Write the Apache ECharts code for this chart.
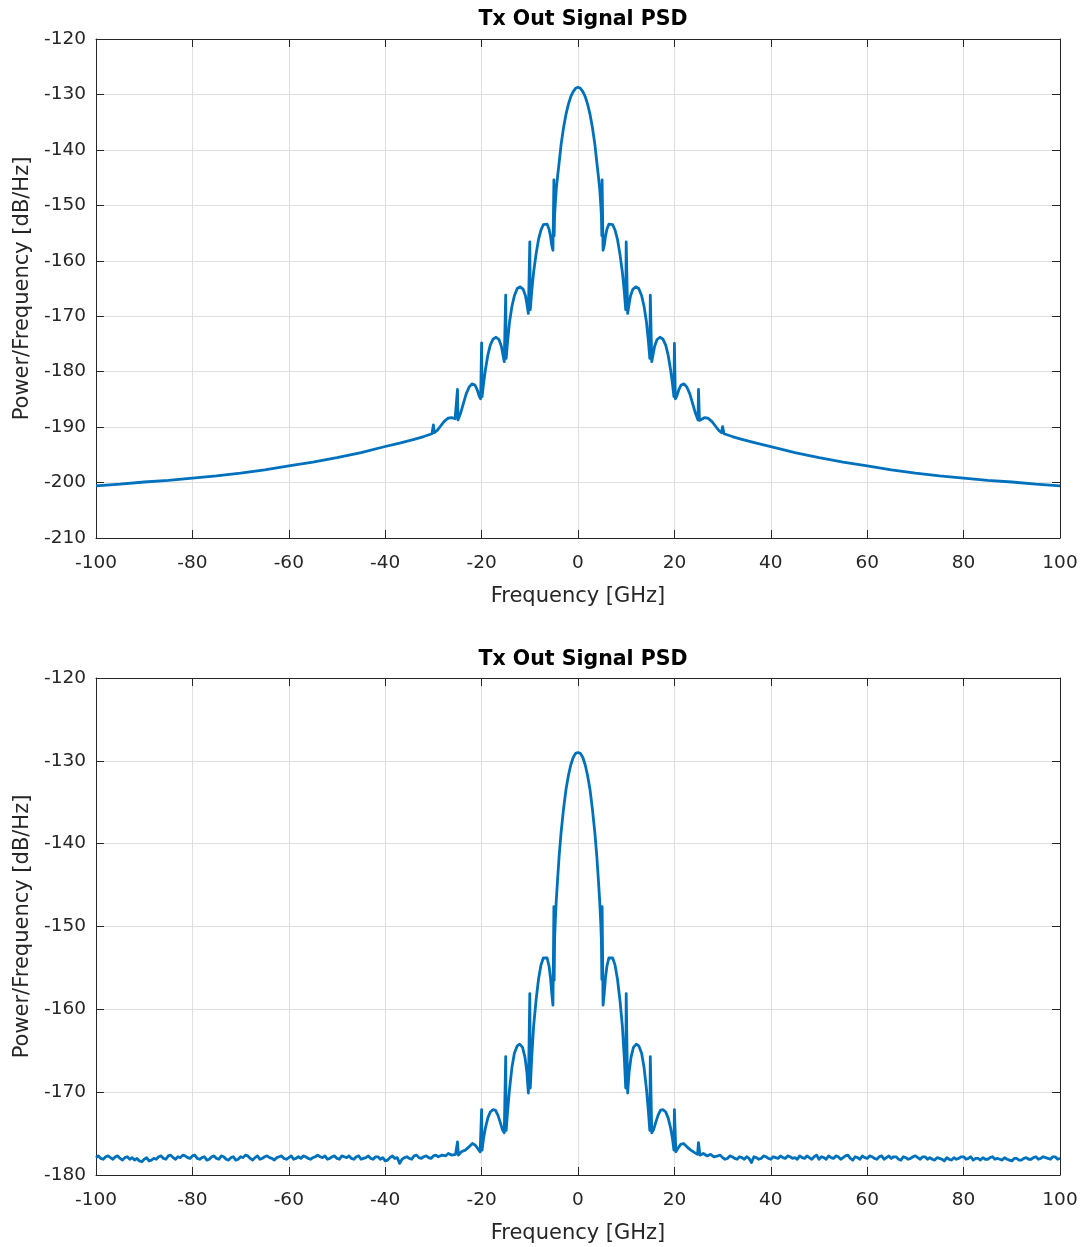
<!DOCTYPE html>
<html>
<head>
<meta charset="utf-8">
<script src="https://cdn.jsdelivr.net/npm/echarts@6/dist/echarts.min.js"></script>
<style>
html,body{margin:0;padding:0;background:#fff;}
#chart{width:1081px;height:1247px;}
</style>
</head>
<body>
<div id="chart"></div>
<script>
// ---------- Data ----------
const chartTitle = "Tx Out Signal PSD";
const xName = "Frequency [GHz]";
const yName = "Power/Frequency [dB/Hz]";
const xTicks = [-100, -80, -60, -40, -20, 0, 20, 40, 60, 80, 100];
const yTicksTop = [-210, -200, -190, -180, -170, -160, -150, -140, -130, -120];
const yTicksBottom = [-180, -170, -160, -150, -140, -130, -120];

// Top panel: frequency [GHz] and PSD [dB/Hz]
const freqTop = [
  -100, -95, -90, -85, -80, -75, -70, -65, -60, -55, -50, -45, -40, -37, -34, -32,
  -30.3, -30.0, -29.8, -29.2, -28.5, -27.8, -27.0, -26.2, -25.5, -25.2, -25.0, -24.9,
  -24.4, -23.8, -23.2, -22.6, -22.0, -21.4, -20.9, -20.5, -20.2, -20.0, -19.9,
  -19.6, -19.2, -18.7, -18.2, -17.6, -17.0, -16.4, -15.9, -15.6, -15.3, -15.0, -14.9,
  -14.6, -14.2, -13.7, -13.2, -12.6, -12.0, -11.4, -10.9, -10.6, -10.3, -10.0, -9.9,
  -9.6, -9.2, -8.7, -8.2, -7.7, -7.2, -6.8, -6.4, -6.0, -5.7, -5.45, -5.2, -5.0, -4.95,
  -4.85, -4.7, -4.5, -4.2, -4.0, -3.5, -3.0, -2.5, -2.0, -1.5, -1.0, -0.5, 0,
  0.5, 1.0, 1.5, 2.0, 2.5, 3.0, 3.5, 4.0, 4.2, 4.5, 4.7, 4.85, 4.95, 5.0, 5.2,
  5.45, 5.7, 6.0, 6.4, 6.8, 7.2, 7.7, 8.2, 8.7, 9.2, 9.6, 9.9, 10.0, 10.3,
  10.6, 10.9, 11.4, 12.0, 12.6, 13.2, 13.7, 14.2, 14.6, 14.9, 15.0, 15.3,
  15.6, 15.9, 16.4, 17.0, 17.6, 18.2, 18.7, 19.2, 19.6, 19.9, 20.0, 20.2,
  20.5, 20.9, 21.4, 22.0, 22.6, 23.2, 23.8, 24.4, 24.9, 25.0, 25.2,
  25.5, 26.2, 27.0, 27.8, 28.5, 29.2, 29.8, 30.0, 30.3,
  32, 34, 37, 40, 45, 50, 55, 60, 65, 70, 75, 80, 85, 90, 95, 100
];
const psdTop = [
  -200.6, -200.3, -199.9, -199.6, -199.2, -198.8, -198.3, -197.7, -197.0, -196.3, -195.5, -194.6, -193.5, -192.9, -192.2, -191.7,
  -191.2, -189.6, -191.0, -190.6, -189.8, -189.0, -188.4, -188.3, -188.5, -188.8, -183.2, -188.7,
  -187.6, -185.8, -184.0, -182.8, -182.2, -182.4, -183.3, -184.4, -184.9, -174.8, -184.5,
  -182.2, -179.6, -177.0, -175.2, -174.1, -173.8, -174.2, -175.4, -176.8, -178.2, -166.2, -177.6,
  -174.5, -171.0, -168.2, -166.3, -165.0, -164.7, -165.1, -166.3, -167.8, -169.5, -156.6, -168.8,
  -165.5, -162.0, -158.8, -156.2, -154.5, -153.5, -153.2, -153.4, -154.3, -155.6, -157.2, -158.1, -145.4, -155.5,
  -151.8, -149.5, -147.0, -144.5, -143.0, -139.0, -136.0, -133.6, -131.8, -130.4, -129.5, -128.9, -128.7,
  -128.9, -129.5, -130.4, -131.8, -133.6, -136.0, -139.0, -143.0, -144.5, -147.0, -149.5, -151.8, -155.5, -145.4, -158.1,
  -157.2, -155.6, -154.3, -153.4, -153.2, -153.5, -154.5, -156.2, -158.8, -162.0, -165.5, -168.8, -156.6, -169.5,
  -167.8, -166.3, -165.1, -164.7, -165.0, -166.3, -168.2, -171.0, -174.5, -177.6, -166.2, -178.2,
  -176.8, -175.4, -174.2, -173.8, -174.1, -175.2, -177.0, -179.6, -182.2, -184.5, -174.9, -184.9,
  -184.4, -183.3, -182.4, -182.2, -182.8, -184.0, -185.8, -187.6, -188.7, -183.2, -188.8,
  -188.5, -188.3, -188.4, -189.0, -189.8, -190.6, -191.0, -189.9, -191.2,
  -191.7, -192.2, -192.9, -193.5, -194.6, -195.5, -196.3, -197.0, -197.7, -198.3, -198.8, -199.2, -199.6, -199.9, -200.3, -200.6
];

// Bottom panel: left noise floor
const noiseLeftFreq = [
  -100, -99.5, -99, -98.5, -98, -97.5, -97, -96.5, -96, -95.5, -95, -94.5, -94, -93.5, -93, -92.5, -92, -91.5, -91, -90.5,
  -90, -89.5, -89, -88.5, -88, -87.5, -87, -86.5, -86, -85.5, -85, -84.5, -84, -83.5, -83, -82.5, -82, -81.5, -81, -80.5,
  -80, -79.5, -79, -78.5, -78, -77.5, -77, -76.5, -76, -75.5, -75, -74.5, -74, -73.5, -73, -72.5, -72, -71.5, -71, -70.5,
  -70, -69.5, -69, -68.5, -68, -67.5, -67, -66.5, -66, -65.5, -65, -64.5, -64, -63.5, -63, -62.5, -62, -61.5, -61, -60.5,
  -60, -59.5, -59, -58.5, -58, -57.5, -57, -56.5, -56, -55.5, -55, -54.5, -54, -53.5, -53, -52.5, -52, -51.5, -51, -50.5,
  -50, -49.5, -49, -48.5, -48, -47.5, -47, -46.5, -46, -45.5, -45, -44.5, -44, -43.5, -43, -42.5, -42, -41.5, -41, -40.5,
  -40, -39.5, -39, -38.5, -38, -37.5, -37, -36.5, -36, -35.5, -35, -34.5, -34, -33.5, -33, -32.5, -32, -31.5, -31, -30.5,
  -30, -29.5, -29
];
const noiseLeftPsd = [
  -177.9, -177.7, -178.0, -178.1, -177.8, -177.7, -177.9, -178.1, -177.8, -177.7, -178.0, -178.2, -177.9, -177.8, -178.1, -177.9, -178.2, -178.0, -178.3, -178.4,
  -178.1, -177.9, -178.3, -178.2, -178.0, -178.1, -177.8, -177.7, -178.0, -178.1, -177.7, -177.6, -177.9, -178.1, -177.8, -177.9, -177.6, -177.7, -177.9, -178.0,
  -177.7, -177.6, -178.0, -178.1, -177.9, -177.8, -178.2, -178.1, -177.8, -177.7, -178.0, -178.1, -177.7, -177.8, -178.1, -178.2, -177.9, -177.8, -178.2, -178.1,
  -177.8, -177.9, -177.6, -177.7, -178.0, -178.2, -177.9, -177.7, -178.1, -178.0, -177.8, -177.7, -177.9, -178.0, -178.2, -177.9, -177.8, -177.7, -178.0, -178.1,
  -177.9, -177.7, -178.1, -178.0, -177.8, -178.0, -177.7, -177.8, -178.0, -178.1, -177.9, -177.8, -177.6, -177.8, -177.9, -177.7, -178.1, -178.0, -177.8, -177.7,
  -178.0, -178.1, -177.7, -177.8, -177.9, -177.7, -178.0, -178.1, -177.8, -177.7, -178.1, -178.0, -177.9, -177.7, -178.0, -178.1, -177.8, -177.8, -178.1, -177.9,
  -178.3, -178.2, -177.9, -177.7, -178.0, -177.9, -178.6, -178.1, -177.9, -177.8, -178.0, -178.1, -177.7, -177.6, -177.9, -178.0, -177.8, -177.7, -177.9, -178.0,
  -177.7, -177.6, -177.8
];
// Bottom panel: central lobes
const lobeFreqBottom = [
  -28.2, -27.5, -26.9, -26.2, -25.4, -25.0, -24.8, -24.2, -23.4, -22.6, -21.9, -21.3, -20.7, -20.3, -20.0, -19.9,
  -19.6, -19.2, -18.7, -18.2, -17.6, -17.1, -16.6, -16.1, -15.7, -15.3, -15.0, -14.9,
  -14.6, -14.2, -13.7, -13.2, -12.6, -12.1, -11.5, -11.0, -10.6, -10.3, -10.0, -9.9,
  -9.6, -9.2, -8.7, -8.2, -7.7, -7.2, -6.8, -6.4, -6.0, -5.7, -5.45, -5.2, -5.0, -4.95,
  -4.85, -4.7, -4.5, -4.2, -3.9, -3.5, -3.0, -2.5, -2.0, -1.5, -1.0, -0.5, 0,
  0.5, 1.0, 1.5, 2.0, 2.5, 3.0, 3.5, 3.9, 4.2, 4.5, 4.7, 4.85, 4.95, 5.0, 5.2,
  5.45, 5.7, 6.0, 6.4, 6.8, 7.2, 7.7, 8.2, 8.7, 9.2, 9.6, 9.9, 10.0, 10.3,
  10.6, 11.0, 11.5, 12.1, 12.6, 13.2, 13.7, 14.2, 14.6, 14.9, 15.0, 15.3,
  15.7, 16.1, 16.6, 17.1, 17.6, 18.2, 18.7, 19.2, 19.6, 19.9, 20.0, 20.3,
  20.7, 21.3, 21.9, 22.6, 23.4, 24.2, 24.8, 25.0, 25.3, 26.0, 26.8, 27.5, 28.2, 29
];
const lobePsdBottom = [
  -177.6, -177.7, -177.4, -177.6, -177.5, -176.0, -177.6, -177.2, -177.0, -176.6, -176.2, -176.4, -176.9, -177.2, -172.1, -177.0,
  -175.6, -174.3, -173.1, -172.4, -172.1, -172.2, -172.8, -173.7, -174.5, -174.9, -165.7, -174.6,
  -172.3, -169.6, -167.0, -165.3, -164.4, -164.2, -164.6, -165.8, -167.6, -170.1, -158.1, -169.5,
  -165.8, -162.0, -158.9, -156.4, -154.7, -153.8, -153.6, -153.8, -154.8, -156.2, -158.0, -159.5, -147.6, -156.5,
  -151.5, -149.2, -146.8, -144.0, -141.4, -138.6, -135.8, -133.5, -131.8, -130.5, -129.6, -129.1, -129.0,
  -129.1, -129.6, -130.5, -131.8, -133.5, -135.9, -138.7, -141.5, -144.1, -146.9, -149.3, -151.6, -156.4, -147.6, -159.5,
  -158.0, -156.2, -154.8, -153.8, -153.6, -153.8, -154.7, -156.4, -158.9, -162.0, -165.8, -169.5, -158.1, -170.1,
  -167.6, -165.8, -164.6, -164.2, -164.4, -165.3, -167.0, -169.6, -172.3, -174.6, -165.7, -174.9,
  -174.5, -173.7, -172.8, -172.2, -172.1, -172.4, -173.1, -174.3, -175.6, -177.0, -172.1, -177.2,
  -176.8, -176.3, -176.2, -176.6, -177.0, -177.3, -177.5, -176.1, -177.6, -177.4, -177.7, -177.5, -177.8, -177.7
];
// Bottom panel: right noise floor
const noiseRightFreq = [
  29.5, 30, 30.5, 31, 31.5, 32, 32.5, 33, 33.5, 34, 34.5, 35, 35.5, 36, 36.5, 37, 37.5, 38, 38.5, 39, 39.5,
  40, 40.5, 41, 41.5, 42, 42.5, 43, 43.5, 44, 44.5, 45, 45.5, 46, 46.5, 47, 47.5, 48, 48.5, 49, 49.5,
  50, 50.5, 51, 51.5, 52, 52.5, 53, 53.5, 54, 54.5, 55, 55.5, 56, 56.5, 57, 57.5, 58, 58.5, 59, 59.5,
  60, 60.5, 61, 61.5, 62, 62.5, 63, 63.5, 64, 64.5, 65, 65.5, 66, 66.5, 67, 67.5, 68, 68.5, 69, 69.5,
  70, 70.5, 71, 71.5, 72, 72.5, 73, 73.5, 74, 74.5, 75, 75.5, 76, 76.5, 77, 77.5, 78, 78.5, 79, 79.5,
  80, 80.5, 81, 81.5, 82, 82.5, 83, 83.5, 84, 84.5, 85, 85.5, 86, 86.5, 87, 87.5, 88, 88.5, 89, 89.5,
  90, 90.5, 91, 91.5, 92, 92.5, 93, 93.5, 94, 94.5, 95, 95.5, 96, 96.5, 97, 97.5, 98, 98.5, 99, 99.5, 100
];
const noiseRightPsd = [
  -177.6, -177.9, -178.1, -178.0, -177.7, -177.8, -178.0, -178.1, -177.8, -177.9, -178.1, -177.8, -178.0, -178.5, -177.8, -177.9, -178.1, -178.0, -177.7, -177.8, -178.0,
  -178.1, -177.8, -177.9, -178.0, -177.7, -177.9, -178.0, -177.7, -177.8, -178.0, -177.9, -178.1, -177.7, -177.9, -178.0, -177.7, -177.9, -178.1, -177.8, -177.6,
  -178.1, -177.8, -177.9, -178.1, -177.7, -177.9, -178.0, -177.7, -177.8, -178.1, -177.9, -177.7, -177.6, -178.0, -178.2, -177.8, -177.9, -178.1, -177.7, -177.9,
  -178.0, -177.7, -177.8, -178.0, -178.1, -177.8, -177.7, -178.1, -177.9, -177.7, -178.0, -177.8, -177.8, -178.1, -178.2, -177.8, -177.9, -178.1, -178.0, -177.8,
  -177.7, -177.9, -178.1, -177.8, -177.8, -178.1, -177.9, -178.1, -178.2, -177.9, -178.0, -178.1, -178.3, -177.9, -178.1, -178.2, -177.9, -178.1, -178.0, -177.8,
  -177.8, -178.1, -178.0, -177.8, -178.2, -178.0, -178.0, -178.2, -177.9, -178.1, -178.1, -177.9, -177.8, -178.1, -178.0, -178.1, -178.2, -177.9, -178.1, -178.2,
  -178.3, -178.0, -178.0, -178.2, -178.2, -178.0, -177.9, -178.1, -178.1, -177.9, -177.8, -178.1, -178.0, -177.8, -177.9, -178.0, -178.1, -177.8, -177.8, -178.1, -178.0
];

// ---------- Chart ----------
const FONT = "DejaVu Sans";
const AX = "#262626";
const LINE = "#0072BD";
const GRIDC = "#dfdfdf";

const topGrid = {left: 96, top: 39, width: 964, height: 499};
const botGrid = {left: 96, top: 678, width: 964, height: 497};

function xMain(gridIndex) {
  return {
    type: 'value', gridIndex, position: 'bottom',
    min: xTicks[0], max: xTicks[xTicks.length - 1], interval: 20,
    name: xName, nameLocation: 'middle', nameGap: 48,
    nameTextStyle: {fontFamily: FONT, fontSize: 21, color: AX},
    axisLine: {show: true, onZero: false, lineStyle: {color: AX, width: 1}},
    axisTick: {show: true, inside: true, length: 8, lineStyle: {color: AX}},
    axisLabel: {show: true, margin: 16, fontFamily: FONT, fontSize: 18.5, color: AX,
      showMinLabel: true, showMaxLabel: true},
    splitLine: {show: true, lineStyle: {color: GRIDC, width: 1}}
  };
}
function xTop(gridIndex) {
  return {
    type: 'value', gridIndex, position: 'top',
    min: xTicks[0], max: xTicks[xTicks.length - 1], interval: 20,
    axisLine: {show: true, onZero: false, lineStyle: {color: AX, width: 1}},
    axisTick: {show: true, inside: true, length: 8, lineStyle: {color: AX}},
    axisLabel: {show: false}, splitLine: {show: false}
  };
}
function yMain(gridIndex, ticks) {
  return {
    type: 'value', gridIndex, position: 'left',
    min: ticks[0], max: ticks[ticks.length - 1], interval: 10,
    name: yName, nameLocation: 'middle', nameGap: 60,
    nameTextStyle: {fontFamily: FONT, fontSize: 21, color: AX},
    axisLine: {show: true, onZero: false, lineStyle: {color: AX, width: 1}},
    axisTick: {show: true, inside: true, length: 8, lineStyle: {color: AX}},
    axisLabel: {show: true, margin: 10, fontFamily: FONT, fontSize: 18.5, color: AX,
      showMinLabel: true, showMaxLabel: true},
    splitLine: {show: true, lineStyle: {color: GRIDC, width: 1}}
  };
}
function yRight(gridIndex, ticks) {
  return {
    type: 'value', gridIndex, position: 'right',
    min: ticks[0], max: ticks[ticks.length - 1], interval: 10,
    axisLine: {show: true, onZero: false, lineStyle: {color: AX, width: 1}},
    axisTick: {show: true, inside: true, length: 8, lineStyle: {color: AX}},
    axisLabel: {show: false}, splitLine: {show: false}
  };
}

const freqBottom = noiseLeftFreq.concat(lobeFreqBottom, noiseRightFreq);
const psdBottom = noiseLeftPsd.concat(lobePsdBottom, noiseRightPsd);

const chart = echarts.init(document.getElementById('chart'), null, {renderer: 'canvas'});
chart.setOption({
  animation: false,
  backgroundColor: '#ffffff',
  title: [
    {text: chartTitle, left: 578, top: 4, textAlign: 'center',
     textStyle: {fontFamily: FONT, fontSize: 20.5, fontWeight: 'bold', color: '#000'}},
    {text: chartTitle, left: 578, top: 644, textAlign: 'center',
     textStyle: {fontFamily: FONT, fontSize: 20.5, fontWeight: 'bold', color: '#000'}}
  ],
  grid: [topGrid, botGrid],
  xAxis: [xMain(0), xTop(0), xMain(1), xTop(1)],
  yAxis: [yMain(0, yTicksTop), yRight(0, yTicksTop), yMain(1, yTicksBottom), yRight(1, yTicksBottom)],
  series: [
    {type: 'line', xAxisIndex: 0, yAxisIndex: 0, showSymbol: false, symbol: 'none',
     lineStyle: {color: LINE, width: 2.8, join: 'round'},
     data: freqTop.map((f, i) => [f, psdTop[i]])},
    {type: 'line', xAxisIndex: 2, yAxisIndex: 2, showSymbol: false, symbol: 'none',
     lineStyle: {color: LINE, width: 2.8, join: 'round'},
     data: freqBottom.map((f, i) => [f, psdBottom[i]])}
  ]
});
</script>
</body>
</html>
